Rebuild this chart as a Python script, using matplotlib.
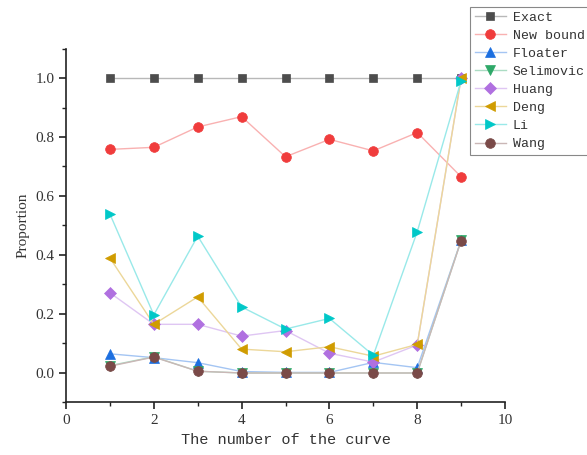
import matplotlib
matplotlib.use("Agg")
import matplotlib.pyplot as plt
from matplotlib.ticker import MultipleLocator

curve = [1, 2, 3, 4, 5, 6, 7, 8, 9]

exact = [1.0, 1.0, 1.0, 1.0, 1.0, 1.0, 1.0, 1.0, 1.0]
new_bound = [0.758, 0.765, 0.834, 0.869, 0.733, 0.792, 0.753, 0.815, 0.665]
floater = [0.065, 0.052, 0.035, 0.005, 0.002, 0.002, 0.036, 0.018, 0.45]
selimovic = [0.025, 0.055, 0.006, 0.0, 0.0, 0.0, 0.0, 0.0, 0.45]
huang = [0.272, 0.165, 0.165, 0.125, 0.144, 0.067, 0.037, 0.095, 1.0]
deng = [0.39, 0.165, 0.258, 0.081, 0.072, 0.089, 0.057, 0.097, 1.0]
li = [0.539, 0.197, 0.464, 0.224, 0.149, 0.185, 0.06, 0.479, 0.991]
wang = [0.023, 0.054, 0.006, 0.0, 0.0, 0.0, 0.0, 0.0, 0.449]

series = [
    ("Exact", exact, "#4d4d4d", "s", 6),
    ("New bound", new_bound, "#f03c3c", "o", 7),
    ("Floater", floater, "#1c6fe0", "^", 7),
    ("Selimovic", selimovic, "#2ea868", "v", 7),
    ("Huang", huang, "#b070e0", "D", 6),
    ("Deng", deng, "#d09c00", "<", 7),
    ("Li", li, "#00c8c8", ">", 7),
    ("Wang", wang, "#7a4a48", "o", 7),
]

def light(c, a=0.4):
    r, g, b = matplotlib.colors.to_rgb(c)
    return (1 - a + a * r, 1 - a + a * g, 1 - a + a * b)

fig = plt.figure(figsize=(5.87, 4.55), dpi=100)
ax = fig.add_axes([0.1124, 0.1154, 0.748, 0.778])

for name, vals, col, mk, ms in series:
    ax.plot(curve, vals, color=light(col), lw=1.0, marker=mk, markersize=ms,
            markerfacecolor=col, markeredgecolor=col, markeredgewidth=0.5, label=name)

ax.set_xlim(0, 10)
ax.set_ylim(-0.1, 1.1)
ax.xaxis.set_major_locator(MultipleLocator(2))
ax.xaxis.set_minor_locator(MultipleLocator(1))
ax.set_yticks([0.0, 0.2, 0.4, 0.6, 0.8, 1.0])
ax.yaxis.set_minor_locator(MultipleLocator(0.1))
ax.set_yticklabels(["0.0", "0.2", "0.4", "0.6", "0.8", "1.0"])
ax.spines["top"].set_visible(False)
ax.spines["right"].set_visible(False)
for s in ["left", "bottom"]:
    ax.spines[s].set_linewidth(1.2)
    ax.spines[s].set_color("#222222")
ax.tick_params(which="major", direction="out", length=5, width=1.2, color="#222222",
               labelsize=11, labelcolor="#333333")
ax.tick_params(which="minor", direction="out", length=3, width=1.0, color="#222222")
for lab in ax.get_xticklabels() + ax.get_yticklabels():
    lab.set_family("Liberation Serif")

ax.set_xlabel("The number of the curve", family="Liberation Mono", fontsize=11, color="#333333")
ax.set_ylabel("Proportion", family="Liberation Serif", fontsize=11, color="#333333")

leg = ax.legend(loc="upper left", bbox_to_anchor=(470 / 587, 1 - 7 / 455),
                bbox_transform=fig.transFigure, prop={"family": "Liberation Mono", "size": 9.5},
                fancybox=False, edgecolor="#888888", framealpha=1, borderpad=0.35,
                labelspacing=0.44, handlelength=2.4, handletextpad=0.5, borderaxespad=0)
leg.get_frame().set_linewidth(0.8)
for t in leg.get_texts():
    t.set_color("#333333")

fig.savefig("out.png", dpi=100)
